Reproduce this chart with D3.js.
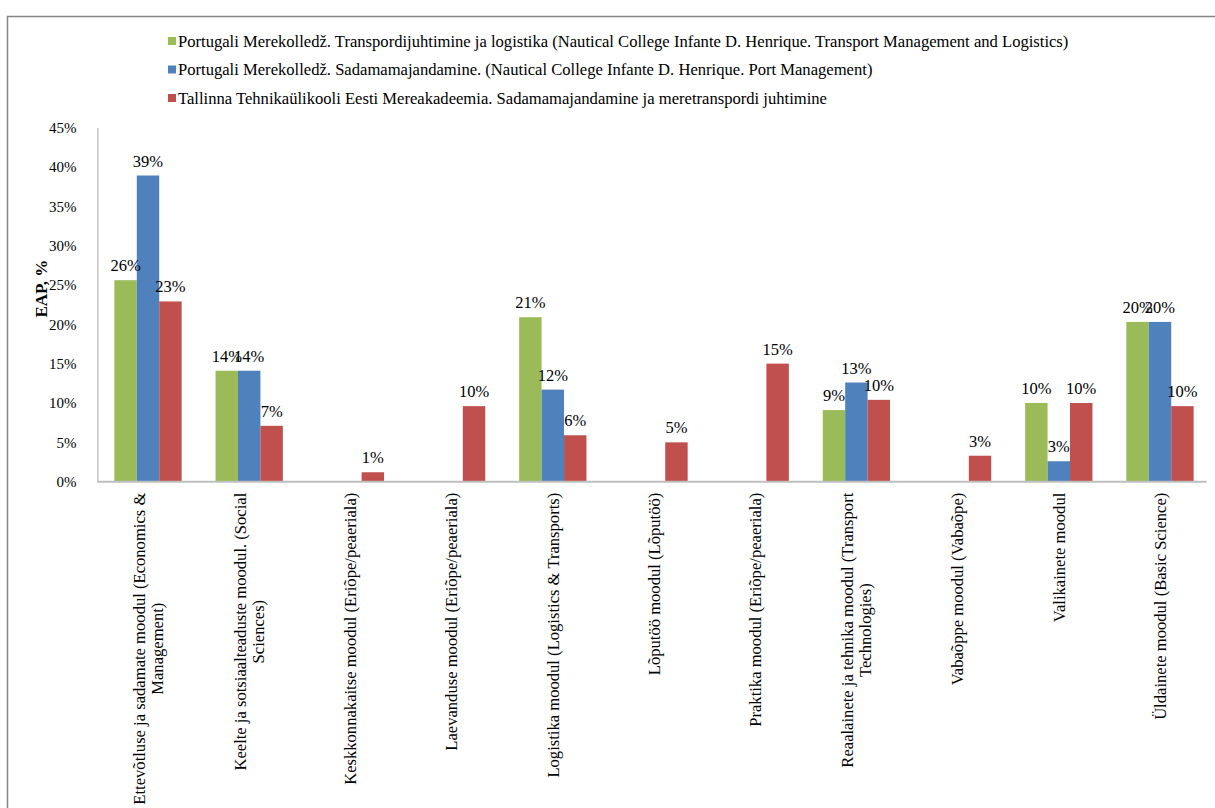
<!DOCTYPE html>
<html>
<head>
<meta charset="utf-8">
<script src="https://cdn.jsdelivr.net/npm/d3@7"></script>
<style>
  html, body { margin: 0; padding: 0; background: #ffffff; }
  svg { display: block; }
</style>
</head>
<body>
<svg id="chart" width="1215" height="808" font-family="'Liberation Serif', 'Times New Roman', serif"></svg>
<script>
const SERIF = "'Liberation Serif', 'Times New Roman', serif";

// Study modules (x-axis categories)
const categories = [
  "Ettevõtluse ja sadamate moodul (Economics & Management)",
  "Keelte ja sotsiaalteaduste moodul. (Social Sciences)",
  "Keskkonnakaitse moodul (Eriõpe/peaeriala)",
  "Laevanduse moodul (Eriõpe/peaeriala)",
  "Logistika moodul (Logistics & Transports)",
  "Lõputöö moodul (Lõputöö)",
  "Praktika moodul (Eriõpe/peaeriala)",
  "Reaalainete ja tehnika moodul (Transport Technologies)",
  "Vabaõppe moodul (Vabaõpe)",
  "Valikainete moodul",
  "Üldainete moodul (Basic Science)"
];

// Series names (legend)
const seriesNames = [
  "Portugali Merekolledž. Transpordijuhtimine ja logistika (Nautical College Infante D. Henrique. Transport Management and Logistics)",
  "Portugali Merekolledž. Sadamamajandamine. (Nautical College Infante D. Henrique. Port Management)",
  "Tallinna Tehnikaülikooli Eesti Mereakadeemia. Sadamamajandamine ja meretranspordi juhtimine"
];

// Share of ECTS (EAP) per module; null = module not present in the programme
const transportLogistics = [0.256, 0.141, null, null, 0.209, null, null, 0.091, null, 0.100, 0.203];
const portManagement     = [0.389, 0.141, null, null, 0.117, null, null, 0.126, null, 0.026, 0.203];
const tallinnMA          = [0.229, 0.071, 0.012, 0.096, 0.059, 0.050, 0.150, 0.104, 0.033, 0.100, 0.096];

const yTicks = [0, 0.05, 0.10, 0.15, 0.20, 0.25, 0.30, 0.35, 0.40, 0.45];
const colors = ["#9BBB59", "#4F81BD", "#C0504D"];

const series = [transportLogistics, portManagement, tallinnMA];

const svg = d3.select("#chart");

// outer frame of the chart area
svg.append("rect")
  .attr("x", 7.5).attr("y", 16.5)
  .attr("width", 1230).attr("height", 820)
  .attr("fill", "none").attr("stroke", "#868686").attr("stroke-width", 1.5);

const plot = { left: 97.4, right: 1210.6, top: 127.5, bottom: 481.7 };

const x = d3.scaleBand().domain(d3.range(categories.length))
  .range([plot.left, plot.right]).paddingInner(0).paddingOuter(0);
const groupWidth = x.bandwidth() * 0.665;
const xs = d3.scaleBand().domain(d3.range(series.length))
  .range([0, groupWidth]);
const y = d3.scaleLinear().domain([0, 0.45]).range([plot.bottom, plot.top]);
const pct = d3.format(".0%");

// y axis
const yAxis = svg.append("g").attr("transform", `translate(${plot.left},0)`)
  .call(d3.axisLeft(y).tickValues(yTicks).tickFormat(pct).tickSize(0).tickPadding(21))
  .attr("font-family", SERIF).attr("font-size", 15);
yAxis.select(".domain").attr("stroke", "#a6a6a6").attr("stroke-width", 1);
yAxis.selectAll(".tick text").attr("fill", "#000");

// y axis title
svg.append("text")
  .attr("transform", `translate(47,${(plot.top + plot.bottom) / 2 - 16}) rotate(-90)`)
  .attr("text-anchor", "middle")
  .attr("font-family", SERIF)
  .attr("font-size", 17).attr("font-weight", "bold")
  .text("EAP, %");

// bars
const groups = svg.append("g").selectAll("g.grp")
  .data(categories.map((c, i) => ({ i, vals: series.map(s => s[i]) })))
  .join("g")
  .attr("transform", d => `translate(${x(d.i) + (x.bandwidth() - groupWidth) / 2},0)`);

groups.selectAll("rect")
  .data(d => d.vals.map((v, k) => ({ v, k })).filter(e => e.v != null))
  .join("rect")
  .attr("x", e => xs(e.k))
  .attr("width", xs.bandwidth())
  .attr("y", e => y(e.v))
  .attr("height", e => y(0) - y(e.v))
  .attr("fill", e => colors[e.k]);

// data labels
groups.selectAll("text.val")
  .data(d => d.vals.map((v, k) => ({ v, k })).filter(e => e.v != null))
  .join("text")
  .attr("class", "val")
  .attr("x", e => xs(e.k) + xs.bandwidth() / 2)
  .attr("y", e => y(e.v) - 9)
  .attr("text-anchor", "middle")
  .attr("font-family", SERIF)
  .attr("font-size", 16.5)
  .text(e => pct(e.v));

// x axis baseline
const xAxis = svg.append("g").attr("transform", `translate(0,${plot.bottom})`)
  .call(d3.axisBottom(x).tickSize(0).tickFormat(""));
xAxis.select(".domain").attr("stroke", "#bfbfbf").attr("stroke-width", 2)
  .attr("d", `M${plot.left},0H${plot.right - 4}`);

// category labels, rotated and wrapped
const labelSize = 16.6;
const wrapWidth = 330;
const lineGap = 18.5;
const labelTop = plot.bottom + 11;
const measure = svg.append("text").attr("font-family", SERIF)
  .attr("font-size", labelSize).attr("visibility", "hidden");
function wrap(str) {
  const words = str.split(" ");
  const lines = [];
  let cur = "";
  words.forEach(w => {
    const test = cur ? cur + " " + w : w;
    measure.text(test);
    if (measure.node().getComputedTextLength() > wrapWidth && cur) {
      lines.push(cur); cur = w;
    } else cur = test;
  });
  if (cur) lines.push(cur);
  return lines;
}
const labelData = categories.map((c, i) => {
  const lines = wrap(c);
  const widths = lines.map(l => { measure.text(l); return measure.node().getComputedTextLength(); });
  return { i, lines, maxW: d3.max(widths) };
});
measure.remove();

const labels = svg.append("g").selectAll("g.lbl").data(labelData).join("g")
  .attr("transform", d => `translate(${x(d.i) + x.bandwidth() / 2},${labelTop}) rotate(-90)`);
labels.each(function (d) {
  const g = d3.select(this);
  const n = d.lines.length;
  d.lines.forEach((line, k) => {
    g.append("text")
      .attr("x", -d.maxW / 2)
      .attr("y", (k - (n - 1) / 2) * lineGap)
      .attr("dy", "0.35em")
      .attr("text-anchor", "middle")
      .attr("font-family", SERIF)
      .attr("font-size", labelSize)
      .text(line);
  });
});

// legend
const legend = svg.append("g").selectAll("g.leg").data(seriesNames).join("g")
  .attr("transform", (d, i) => `translate(168,${41 + i * 28.5})`);
legend.append("rect").attr("x", 0).attr("y", -4).attr("width", 8).attr("height", 8)
  .attr("fill", (d, i) => colors[i]);
legend.append("text").attr("x", 10).attr("dy", "0.35em")
  .attr("font-family", SERIF)
  .attr("font-size", 16.6).text(d => d);
</script>
</body>
</html>
